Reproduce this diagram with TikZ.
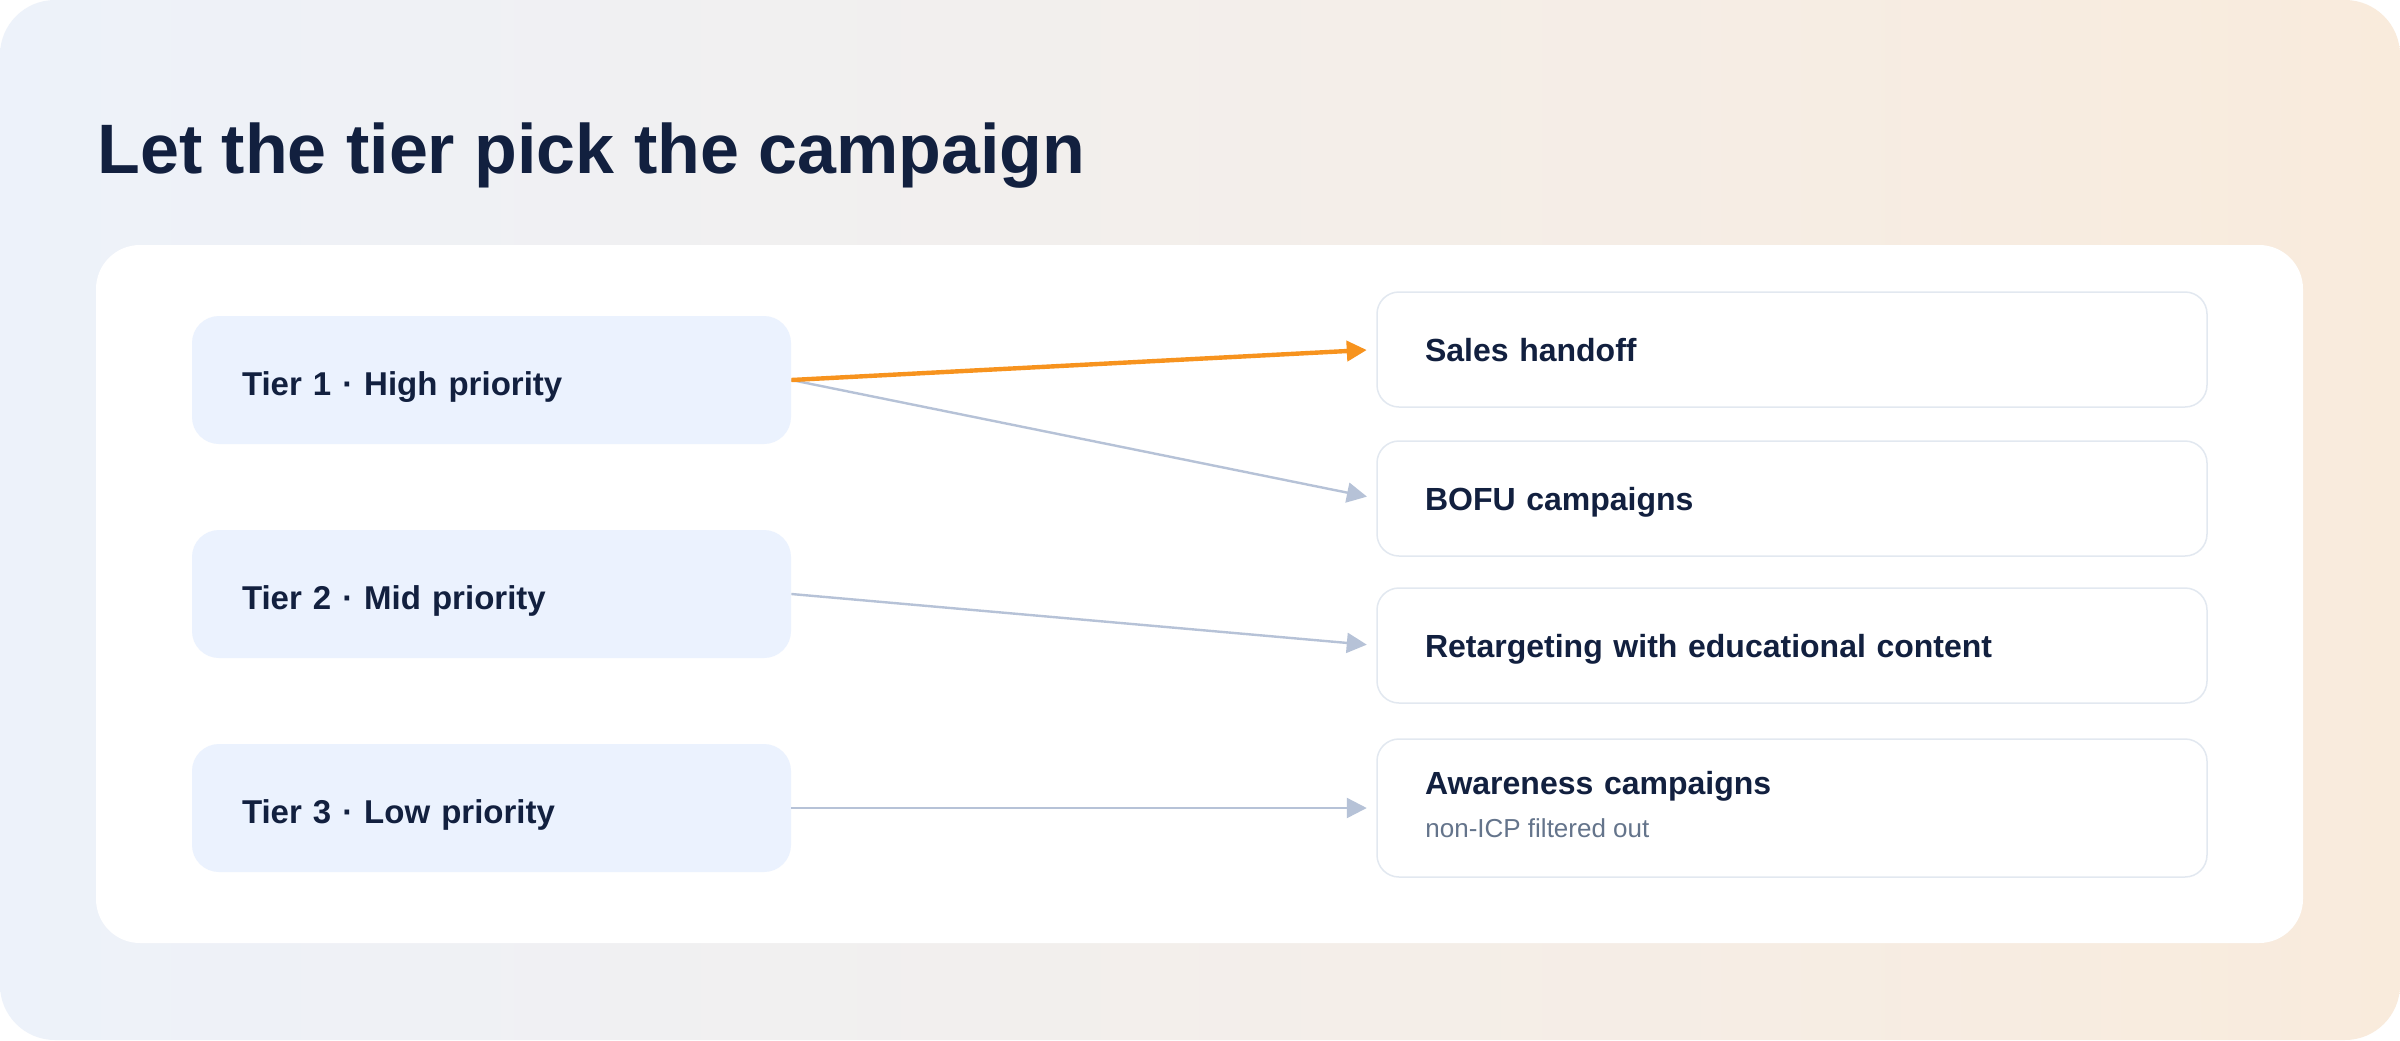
\documentclass[tikz,border=0pt]{standalone}
\usepackage{fontspec}
\setmainfont{Liberation Sans}
\usepackage{xcolor}
\usepackage{tikz}
\usetikzlibrary{arrows.meta}

\definecolor{ink}{HTML}{12203F}
\definecolor{muted}{HTML}{64748B}
\definecolor{tierfill}{HTML}{EBF2FE}
\definecolor{edge}{HTML}{E2E8F0}
\definecolor{hot}{HTML}{F7931E}
\definecolor{cool}{HTML}{B6C2D7}
\definecolor{bgleft}{HTML}{EDF2FA}
\definecolor{bgmid}{HTML}{F1F1F1}
\definecolor{bgright}{HTML}{F9EBDC}

\begin{document}
\begin{tikzpicture}[x=0.5pt, y=-0.5pt,
    tierbox/.style={fill=tierfill, rounded corners=13.5pt, minimum width=299.5pt,
      minimum height=64pt, inner xsep=25pt, inner ysep=0pt, text width=249.5pt,
      align=left, text height=15pt, text depth=0pt, text=ink,
      font=\bfseries\fontsize{16.5}{20}\selectfont},
    outbox/.style={draw=edge, line width=0.75pt, fill=white, rounded corners=11pt,
      minimum width=415pt, minimum height=57.5pt, inner xsep=24pt, inner ysep=0pt,
      text width=367pt, align=left, text height=11.5pt, text depth=0pt, text=ink,
      font=\bfseries\fontsize{16}{19}\selectfont},
    link/.style={-{Triangle[length=10pt, width=10pt]}, cool, line width=1.2pt,
      shorten >=4.75pt}]
    % backdrop and panel
    \fill[white] (0,0) rectangle (2400,1040);
    \shade[left color=bgleft, middle color=bgmid, right color=bgright,
      rounded corners=27.5pt] (0,0) rectangle (2400,1040);
    \fill[white, rounded corners=22pt] (96,245) rectangle (2303,943);

    \node[anchor=base west, inner sep=0pt, text=ink,
      font=\bfseries\fontsize{35}{40}\selectfont] (title) at (97,173)
      {Let the tier pick the campaign};

    \foreach \n/\y/\lvl in {1/380/High, 2/594/Mid, 3/808/Low}
        \node[tierbox] (tier\n) at (491.5,\y) {Tier \n{} · \lvl{} priority};

    \node[outbox] (sales) at (1792,349.5) {Sales handoff};
    \node[outbox] (bofu) at (1792,498.5) {BOFU campaigns};
    \node[outbox] (retarget) at (1792,645.5) {Retargeting with educational content};
    \node[outbox, minimum height=69pt, text height=0pt, text depth=14pt] (aware)
      at (1792,808) {Awareness campaigns};
    \node[anchor=base west, inner sep=0pt, text=muted,
      font=\fontsize{13}{15}\selectfont] (awarenote) at (1425,837)
      {non-ICP filtered out};

    \draw[link] (tier1.east) -- (bofu.west);
    \draw[link] (tier2.east) -- (retarget.west);
    \draw[link] (tier3.east) -- (aware.west);
    \draw[link, hot, line width=2.2pt] (tier1.east) -- (sales.west);
\end{tikzpicture}
\end{document}
